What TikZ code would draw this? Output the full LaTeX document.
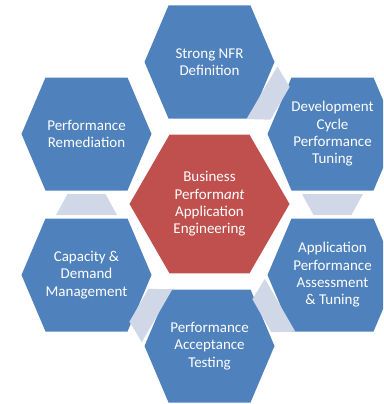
\documentclass[tikz,border=0pt]{standalone}
\usepackage{fontspec}
\setmainfont{Carlito}
\usetikzlibrary{calc}

\definecolor{hexblue}{HTML}{4F81BD}
\definecolor{hexred}{HTML}{C0504D}
\definecolor{bridgegray}{HTML}{D0D8E8}

\newcommand{\hexcell}[5]{%
  \fill[#1] ({#3-\hexw},#4) -- ({#3-\hexw+\hexin},{#4-\hexh}) -- ({#3+\hexw-\hexin},{#4-\hexh})
    -- ({#3+\hexw},#4) -- ({#3+\hexw-\hexin},{#4+\hexh}) -- ({#3-\hexw+\hexin},{#4+\hexh}) -- cycle;
  \node[hextext] (#2) at (#3,#4) {#5};}

\newcommand{\bridge}[2]{%
  \coordinate (bm) at ($(#1)!0.5!(#2)$);
  \coordinate (bs) at ($(bm)!10.5pt!(#1)$);
  \coordinate (bt) at ($(bm)!10.5pt!(#2)$);
  \fill[link] ($(bs)!30.5pt!90:(#2)$) -- ($(bt)!19pt!90:(#2)$)
    -- ($(bt)!19pt!-90:(#2)$) -- ($(bs)!30.5pt!-90:(#2)$) -- cycle;}

\begin{document}
\begin{tikzpicture}[x=1pt,y=-1pt,
  outer/.style={fill=hexblue},
  core/.style={fill=hexred},
  link/.style={fill=bridgegray},
  hextext/.style={text=white,align=center,inner sep=0pt,font=\fontsize{15}{17.3}\selectfont}]
\clip (0,0) rectangle (383,404);

\def\hexw{65}\def\hexin{24}\def\hexh{56.5}
\hexcell{outer}{nfr}{209.5}{62}{Strong NFR\\Definition}
\hexcell{outer}{devcycle}{332.5}{134}{Development\\Cycle\\Performance\\Tuning}
\hexcell{outer}{assess}{332.5}{275}{Application\\Performance\\Assessment\\\& Tuning}
\hexcell{outer}{accept}{209.5}{346}{Performance\\Acceptance\\Testing}
\hexcell{outer}{capacity}{86.5}{275}{Capacity \&\\Demand\\Management}
\hexcell{outer}{remedy}{86.5}{134}{Performance\\Remediation}

\def\hexw{80}\def\hexin{40}\def\hexh{69.3}
\hexcell{core}{business}{209.5}{204}{Business\\Perform\textit{ant}\\Application\\Engineering}

\bridge{nfr}{devcycle}
\bridge{devcycle}{assess}
\bridge{assess}{accept}
\bridge{accept}{capacity}
\bridge{capacity}{remedy}
\end{tikzpicture}
\end{document}
